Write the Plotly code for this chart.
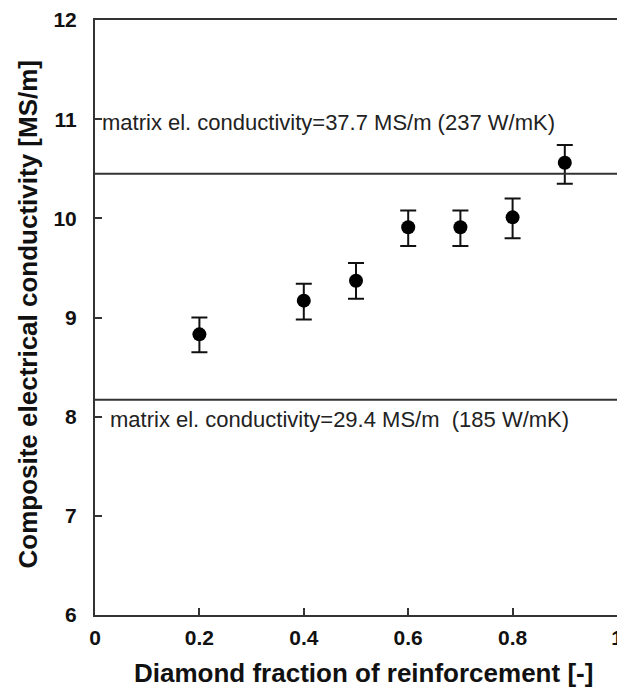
import plotly.graph_objects as go

# Data
fraction = [0.2, 0.4, 0.5, 0.6, 0.7, 0.8, 0.9]
conductivity = [8.83, 9.17, 9.37, 9.91, 9.91, 10.01, 10.56]
err_plus = [0.17, 0.17, 0.18, 0.17, 0.17, 0.19, 0.18]
err_minus = [0.18, 0.19, 0.18, 0.19, 0.19, 0.21, 0.21]

matrix_levels = [10.45, 8.17]
matrix_labels = [
    "matrix el. conductivity=37.7 MS/m (237 W/mK)",
    "matrix el. conductivity=29.4 MS/m  (185 W/mK)",
]
label_pos_x = [0.01, 0.025]
label_pos_y = [10.97, 7.97]

x_ticks = [0, 0.2, 0.4, 0.6, 0.8, 1]
x_ticklabels = ["0", "0.2", "0.4", "0.6", "0.8", "1"]
y_ticks = [6, 7, 8, 9, 10, 11, 12]

x_title = "Diamond fraction of reinforcement [-]"
y_title = "Composite electrical conductivity [MS/m]"

FONT = "Liberation Sans, Arial, Helvetica, sans-serif"

fig = go.Figure()
fig.add_trace(go.Scatter(
    x=fraction, y=conductivity, mode="markers",
    marker=dict(size=14, color="black"),
    error_y=dict(type="data", symmetric=False, array=err_plus, arrayminus=err_minus,
                 color="#111", thickness=2, width=8),
    showlegend=False, cliponaxis=False,
))

for lvl in matrix_levels:
    fig.add_shape(type="line", xref="paper", x0=0, x1=1, yref="y", y0=lvl, y1=lvl,
                  line=dict(color="#333", width=2))

for txt, lx, ly in zip(matrix_labels, label_pos_x, label_pos_y):
    fig.add_annotation(x=lx, y=ly, xref="x", yref="y", text=txt, showarrow=False,
                       xanchor="left", yanchor="middle",
                       font=dict(family=FONT, size=22, color="#222"))

# axis titles
fig.add_annotation(x=0.515, y=0, xref="paper", yref="paper", yshift=-58,
                   text=x_title, showarrow=False, xanchor="center", yanchor="middle",
                   font=dict(family=FONT, size=26, weight="bold", color="#111"))
fig.add_annotation(x=0, y=0.505, xref="paper", yref="paper", xshift=-67,
                   text=y_title, showarrow=False, textangle=-90,
                   xanchor="center", yanchor="middle",
                   font=dict(family=FONT, size=26, weight="bold", color="#111"))

# the page body adds an 8px offset, so the figure is sized to fit the window
fig.update_layout(
    width=617, height=685,
    margin=dict(l=87, r=8, t=12, b=78),
    plot_bgcolor="white", paper_bgcolor="white",
    font=dict(family=FONT, color="#111"),
    xaxis=dict(
        range=[0, 1], tickvals=x_ticks, ticktext=x_ticklabels, automargin=False,
        ticks="inside", ticklen=7, tickwidth=2, tickcolor="#333",
        showline=True, linecolor="#333", linewidth=2, mirror=True,
        showgrid=False, zeroline=False, ticklabelstandoff=3,
        ticklabeloverflow="allow",
        tickfont=dict(family=FONT, size=21, weight="bold", color="#111"),
    ),
    yaxis=dict(
        range=[6, 12], tickvals=y_ticks, automargin=False,
        ticks="inside", ticklen=7, tickwidth=2, tickcolor="#333",
        showline=True, linecolor="#333", linewidth=2, mirror=True,
        showgrid=False, zeroline=False,
        ticklabeloverflow="allow",
        tickfont=dict(family=FONT, size=21, weight="bold", color="#111"),
        ticklabelstandoff=12,
    ),
)

fig.write_html("out.html")
